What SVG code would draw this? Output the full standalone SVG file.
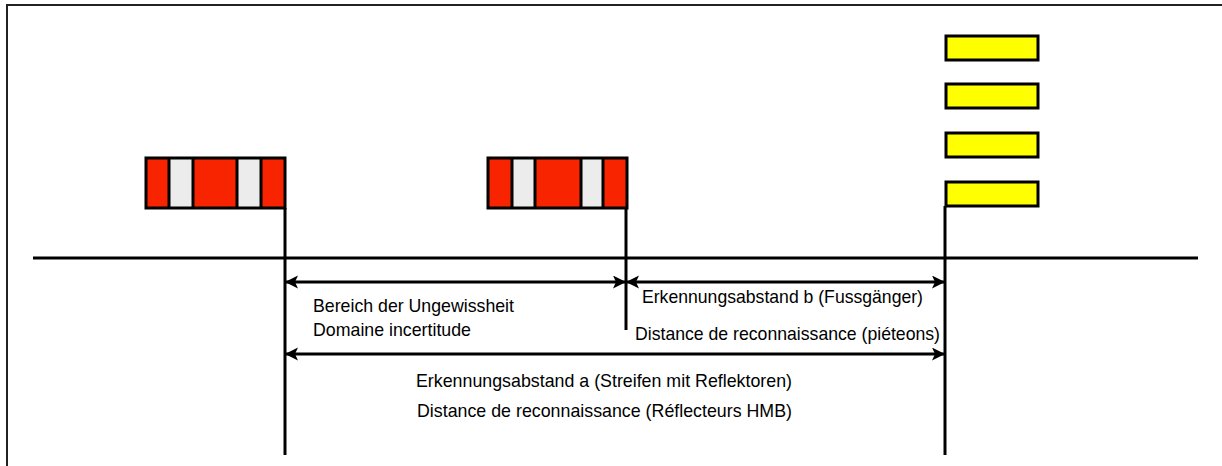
<svg xmlns="http://www.w3.org/2000/svg" width="1222" height="466" viewBox="0 0 1222 466">
<defs>
<style>
.ln{stroke:#000;stroke-width:3;fill:none}
.fr{stroke:#222;stroke-width:2;fill:none}
.box{stroke:#000;stroke-width:3}
.red{fill:#f82400}
.wht{fill:#ececec}
.yel{fill:#ffff00;stroke:#000;stroke-width:3}
.t{font-family:"Liberation Sans",Arial,sans-serif;font-size:19px;fill:#000}
</style>
<marker id="ah" markerUnits="userSpaceOnUse" markerWidth="14" markerHeight="14" refX="13" refY="6.5" orient="auto-start-reverse">
<path d="M0,0 L13,6.5 L0,13 L3,6.5 z" fill="#000"/>
</marker>
</defs>
<rect width="1222" height="466" fill="#fff"/>
<g id="frame">
<path class="fr" d="M7,466 V5 H1222"/>
</g>
<g id="road">
<line class="ln" x1="33" y1="258" x2="1198" y2="258"/>
</g>
<g id="flag-left">
<rect class="red" x="146" y="158" width="139" height="50"/>
<rect class="wht" x="169" y="158" width="24" height="50"/>
<rect class="wht" x="237" y="158" width="24" height="50"/>
<path class="ln" d="M169,158 V208 M193,158 V208 M237,158 V208 M261,158 V208"/>
<rect x="146" y="158" width="139" height="50" fill="none" class="box"/>
</g>
<g id="flag-middle">
<rect class="red" x="488" y="158" width="139" height="50"/>
<rect class="wht" x="512" y="158" width="23" height="50"/>
<rect class="wht" x="581" y="158" width="22" height="50"/>
<path class="ln" d="M512,158 V208 M535,158 V208 M581,158 V208 M603,158 V208"/>
<rect x="488" y="158" width="139" height="50" fill="none" class="box"/>
</g>
<g id="pedestrian-signs">
<rect class="yel" x="946" y="36" width="92" height="24"/>
<rect class="yel" x="946" y="84" width="92" height="24"/>
<rect class="yel" x="946" y="133" width="92" height="24"/>
<rect class="yel" x="946" y="182" width="92" height="24"/>
</g>
<g id="connectors">
<line class="ln" x1="285" y1="208" x2="285" y2="455"/>
<line class="ln" x1="626" y1="208" x2="626" y2="330"/>
<line class="ln" x1="945" y1="206" x2="945" y2="455"/>
<line class="ln" x1="285" y1="282" x2="626" y2="282" marker-start="url(#ah)" marker-end="url(#ah)"/>
<line class="ln" x1="626" y1="282" x2="945" y2="282" marker-start="url(#ah)" marker-end="url(#ah)"/>
<line class="ln" x1="285" y1="354" x2="945" y2="354" marker-start="url(#ah)" marker-end="url(#ah)"/>
</g>
<g id="labels">
<text class="t" x="313" y="312" textLength="201" lengthAdjust="spacingAndGlyphs">Bereich der Ungewissheit</text>
<text class="t" x="313" y="336" textLength="158" lengthAdjust="spacingAndGlyphs">Domaine incertitude</text>
<text class="t" x="642" y="303" textLength="281" lengthAdjust="spacingAndGlyphs">Erkennungsabstand b (Fussgänger)</text>
<text class="t" x="635" y="340" textLength="305" lengthAdjust="spacingAndGlyphs">Distance de reconnaissance (piéteons)</text>
<text class="t" x="416" y="387" textLength="376" lengthAdjust="spacingAndGlyphs">Erkennungsabstand a (Streifen mit Reflektoren)</text>
<text class="t" x="417" y="417" textLength="375" lengthAdjust="spacingAndGlyphs">Distance de reconnaissance (Réflecteurs HMB)</text>
</g>
</svg>
